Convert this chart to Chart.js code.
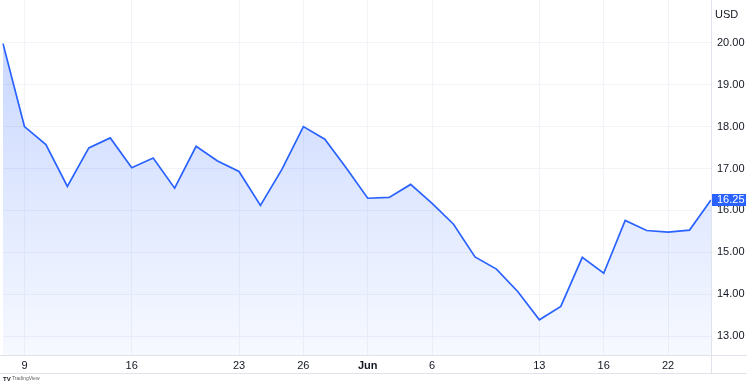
<!DOCTYPE html>
<html>
<head>
<meta charset="utf-8">
<script src="https://cdn.jsdelivr.net/npm/chart.js@4"></script>
<style>
  body { margin: 0; background: #fff; }
  #wrap { width: 750px; height: 384px; position: relative; }
</style>
</head>
<body>
<div id="wrap"><canvas id="priceChart"></canvas></div>
<script>
// x axis labels, one per bar (blank = no tick shown)
const xLabels = ['', '9', '', '', '', '', '16', '', '', '', '', '23', '', '', '26', '', '',
  'Jun', '', '', '6', '', '', '', '', '13', '', '', '16', '', '', '22', '', ''];
// closing prices, USD
const prices = [19.98, 18.00, 17.57, 16.57, 17.49, 17.73, 17.02, 17.25, 16.53, 17.53, 17.18, 16.93,
  16.12, 16.98, 18.00, 17.70, 17.01, 16.29, 16.31, 16.62, 16.17, 15.67, 14.89, 14.60, 14.06, 13.39,
  13.71, 14.88, 14.50, 15.76, 15.52, 15.48, 15.53, 16.25];
const yTicks = [13, 14, 15, 16, 17, 18, 19, 20];
const lastPrice = '16.25';
const currency = 'USD';

const FONT = "'Liberation Sans', Arial, sans-serif";
const LINE = '#2962ff';
const GRID = '#f2f4f9';
const BORDER = '#e0e3eb';

// frame lines, price tag, currency, logo
const decorations = {
  id: 'decorations',
  afterDraw(chart) {
    const c = chart.ctx;
    const y = chart.scales.y;
    const area = chart.chartArea;
    c.save();
    c.strokeStyle = BORDER;
    c.lineWidth = 1;
    c.beginPath();
    c.moveTo(0, area.bottom + 0.5); c.lineTo(747, area.bottom + 0.5);
    c.moveTo(0, area.bottom + 18.5); c.lineTo(747, area.bottom + 18.5);
    c.moveTo(area.right + 0.5, 0); c.lineTo(area.right + 0.5, area.bottom + 18);
    c.stroke();

    // currency label
    c.fillStyle = '#131722';
    c.font = '11px ' + FONT;
    c.textBaseline = 'middle';
    c.fillText(currency, area.right + 4, 15);

    // last price tag
    const py = y.getPixelForValue(prices[prices.length - 1]);
    c.fillStyle = LINE;
    c.fillRect(area.right + 1, Math.round(py) - 6, 34, 12);
    c.fillStyle = '#fff';
    c.fillText(lastPrice, area.right + 6, py + 0.5);

    // logo
    c.fillStyle = '#131722';
    c.font = 'bold 6px ' + FONT;
    c.fillText('TV', 3, 379);
    c.font = '5px ' + FONT;
    c.fillStyle = '#666';
    c.fillText('TradingView', 12, 379);
    c.restore();
  }
};

const ctx = document.getElementById('priceChart').getContext('2d');
new Chart(ctx, {
  type: 'line',
  data: {
    labels: xLabels,
    datasets: [{
      data: prices,
      borderColor: LINE,
      borderWidth: 1.7,
      pointRadius: 0,
      tension: 0,
      fill: 'start',
      backgroundColor: function(context) {
        const area = context.chart.chartArea;
        if (!area) return 'rgba(41,98,255,0.15)';
        const g = context.chart.ctx.createLinearGradient(0, area.top, 0, area.bottom);
        g.addColorStop(0, 'rgba(41,98,255,0.28)');
        g.addColorStop(1, 'rgba(41,98,255,0.04)');
        return g;
      }
    }]
  },
  options: {
    responsive: true,
    maintainAspectRatio: false,
    animation: false,
    layout: { padding: { left: 3, top: 0, right: 0, bottom: 11 } },
    plugins: { legend: { display: false }, tooltip: { enabled: false } },
    scales: {
      x: {
        offset: false,
        border: { display: false },
        grid: {
          drawTicks: false,
          color: c => (c.tick && c.tick.label) ? GRID : 'transparent'
        },
        ticks: {
          autoSkip: false,
          maxRotation: 0,
          padding: 4,
          color: '#131722',
          font: c => ({ family: FONT, size: 11, weight: c.tick && c.tick.label === 'Jun' ? 'bold' : 'normal' })
        },
        afterFit(scale) {
          scale.height = 18;
          scale.paddingLeft = 0;
          scale.paddingRight = 0;
        }
      },
      y: {
        position: 'right',
        min: 12.55,
        max: 21.02,
        border: { display: false },
        grid: { drawTicks: false, color: GRID },
        ticks: {
          padding: 6,
          color: '#131722',
          font: { family: FONT, size: 11 },
          callback: v => v.toFixed(2)
        },
        afterBuildTicks(scale) {
          scale.ticks = yTicks.map(v => ({ value: v }));
        },
        afterFit(scale) {
          scale.width = 39;
          scale.paddingTop = 0;
          scale.paddingBottom = 0;
        }
      }
    }
  },
  plugins: [decorations]
});
</script>
</body>
</html>
